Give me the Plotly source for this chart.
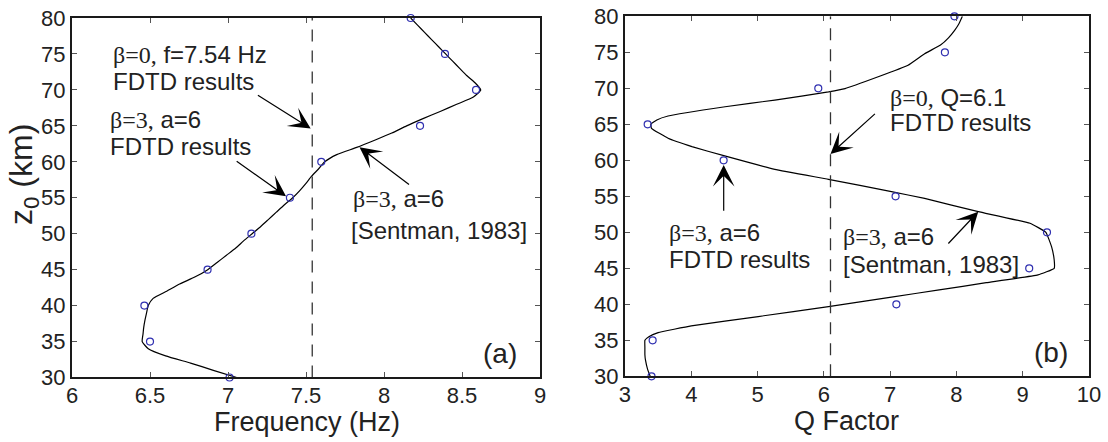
import plotly.graph_objects as go

# ---------------- data ----------------
# (a) resonance frequency versus z0
z_pts = [30, 35, 40, 45, 50, 55, 60, 65, 70, 75, 80]
f_fdtd = [7.01, 6.50, 6.464, 6.869, 7.15, 7.397, 7.598, 8.231, 8.59, 8.391, 8.171]

z_curve_a = [30, 31, 32, 33, 34, 35, 36, 37, 38, 39, 40, 41, 42, 43, 44, 45, 46, 47,
             48, 49, 50, 51, 52, 53, 54, 55, 56, 57, 58, 59, 60, 61, 62, 63, 64, 65,
             66, 67, 68, 69, 70, 71, 72, 73, 74, 75, 76, 77, 78, 79, 80]
f_sentman = [7.056, 6.906, 6.76, 6.60, 6.489, 6.45, 6.455, 6.46, 6.468, 6.478, 6.489,
             6.52, 6.607, 6.69, 6.79, 6.87, 6.93, 6.99, 7.05, 7.10, 7.155, 7.21, 7.26,
             7.31, 7.36, 7.415, 7.46, 7.50, 7.536, 7.58, 7.62, 7.697, 7.825, 7.94, 8.05,
             8.145, 8.25, 8.36, 8.466, 8.573, 8.62, 8.583, 8.53, 8.485, 8.44, 8.395,
             8.35, 8.305, 8.26, 8.215, 8.171]
f_beta0 = 7.54

# (b) Q factor versus z0
q_fdtd = [3.40, 3.417, 7.094, 9.098, 9.366, 7.082, 4.488, 3.342, 5.916, 7.826, 7.97]

z_curve_b = [30, 31, 32.2, 33, 34, 35, 35.5, 36.06, 37, 38.3, 39.67, 41, 42, 43, 44.08,
             45, 46.15, 48, 50, 51.25, 52.87, 54.7, 55.65, 57.36, 58.75, 60.64, 61.9,
             63.06, 64.44, 65, 65.6, 66.15, 67.44, 68.37, 69.5, 69.96, 71.6, 73.2, 74.8,
             76, 77, 78, 79, 80]
q_sentman = [3.38, 3.34, 3.31, 3.30, 3.30, 3.30, 3.36, 3.50, 4.0, 5.01, 6.07, 7.02, 7.74,
             8.45, 9.23, 9.475, 9.475, 9.435, 9.35, 9.11, 8.33, 7.52, 7.02, 6.07, 5.26,
             4.49, 4.01, 3.65, 3.40, 3.39, 3.48, 3.65, 4.51, 5.26, 6.07, 6.32, 6.82,
             7.27, 7.52, 7.76, 7.88, 7.97, 8.04, 8.09]
q_beta0 = 6.1

x_ticks_a = [6, 6.5, 7, 7.5, 8, 8.5, 9]
x_ticks_b = [3, 4, 5, 6, 7, 8, 9, 10]
y_ticks = [30, 35, 40, 45, 50, 55, 60, 65, 70, 75, 80]

# ---------------- styling ----------------
SANS = "Liberation Sans, Arial, Helvetica, sans-serif"
SERIF = "Liberation Serif, Times New Roman, serif"
INK = "#1a1a1a"
MARKER_BLUE = "#2f2fb0"

fig = go.Figure()

# model curves
fig.add_trace(go.Scatter(x=f_sentman, y=z_curve_a, mode="lines",
                         line=dict(color="black", width=1.2, shape="spline", smoothing=0.5),
                         xaxis="x", yaxis="y", showlegend=False, hoverinfo="skip"))
fig.add_trace(go.Scatter(x=q_sentman, y=z_curve_b, mode="lines",
                         line=dict(color="black", width=1.2, shape="spline", smoothing=0.3),
                         xaxis="x2", yaxis="y2", showlegend=False, hoverinfo="skip"))

# FDTD points
fig.add_trace(go.Scatter(x=f_fdtd, y=z_pts, mode="markers",
                         marker=dict(symbol="circle-open", size=7, color=MARKER_BLUE,
                                     line=dict(width=1.2, color=MARKER_BLUE)),
                         xaxis="x", yaxis="y", showlegend=False, cliponaxis=False))
fig.add_trace(go.Scatter(x=q_fdtd, y=z_pts, mode="markers",
                         marker=dict(symbol="circle-open", size=7, color=MARKER_BLUE,
                                     line=dict(width=1.2, color=MARKER_BLUE)),
                         xaxis="x2", yaxis="y2", showlegend=False, cliponaxis=False))

# beta = 0 reference values (dashed verticals)
fig.add_trace(go.Scatter(x=[f_beta0, f_beta0], y=[y_ticks[0], y_ticks[-1]], mode="lines",
                         line=dict(color="#333333", width=1.3, dash="12px,9px"),
                         xaxis="x", yaxis="y", showlegend=False, hoverinfo="skip"))
fig.add_trace(go.Scatter(x=[q_beta0, q_beta0], y=[y_ticks[0], y_ticks[-1]], mode="lines",
                         line=dict(color="#333333", width=1.3, dash="12px,9px"),
                         xaxis="x2", yaxis="y2", showlegend=False, hoverinfo="skip"))

axis_common = dict(showline=True, linecolor=INK, linewidth=2, mirror="allticks",
                   ticks="inside", ticklen=5, tickwidth=1, tickcolor="#555555",
                   showgrid=False, zeroline=False, automargin=False,
                   tickfont=dict(family=SANS, size=22, color="#222222"))

fig.update_layout(
    width=1108, height=442,
    margin=dict(l=0, r=0, t=0, b=0),
    paper_bgcolor="white", plot_bgcolor="white",
    xaxis=dict(domain=[0.064982, 0.487365], range=[6, 9], tickvals=x_ticks_a,
               ticktext=[f"{v:g}" for v in x_ticks_a], anchor="y",
               ticklabelstandoff=-3, **axis_common),
    yaxis=dict(domain=[0.145928, 0.959276], range=[30, 80], tickvals=y_ticks,
               anchor="x", **axis_common),
    xaxis2=dict(domain=[0.564079, 0.982852], range=[3, 10], tickvals=x_ticks_b,
                anchor="y2", ticklabelstandoff=-3, **axis_common),
    yaxis2=dict(domain=[0.148643, 0.963122], range=[30, 80], tickvals=y_ticks,
                anchor="x2", **axis_common),
)


def label(text, x, y, ax_id, size=24, xanchor="left"):
    ref = "" if ax_id == 1 else str(ax_id)
    fig.add_annotation(text=text, x=x, y=y, xref="x" + ref, yref="y" + ref,
                       showarrow=False, xanchor=xanchor, yanchor="middle",
                       font=dict(family=SANS, size=size, color="#222222"))


def arrow(x_tail, y_tail, x_head, y_head, ax_id):
    ref = "" if ax_id == 1 else str(ax_id)
    fig.add_annotation(text="", x=x_head, y=y_head, ax=x_tail, ay=y_tail,
                       xref="x" + ref, yref="y" + ref, axref="x" + ref, ayref="y" + ref,
                       showarrow=True, arrowhead=3, arrowsize=3.0, arrowwidth=1.2,
                       arrowcolor="black", standoff=0, startstandoff=0)


def greek(s):
    return f'<span style="font-family:{SERIF}">{s}</span>'


# panel (a) labels
label(greek("β=0,") + " f=7.54 Hz", 6.25, 74.92, 1)
label("FDTD results", 6.25, 71.23, 1)
label(greek("β=3,") + " a=6", 6.231, 65.93, 1)
label("FDTD results", 6.231, 62.17, 1)
label(greek("β=3,") + " a=6", 7.788, 54.83, 1)
label("[Sentman, 1983]", 7.778, 50.47, 1)
label("(a)", 8.865, 33.37, 1, size=28, xanchor="right")
arrow(7.182, 69.39, 7.53, 64.64, 1)
arrow(7.046, 60.24, 7.372, 55.2, 1)
arrow(8.17, 56.68, 7.843, 62.03, 1)

# panel (b) labels
label(greek("β=0,") + " Q=6.1", 6.967, 68.79, 2)
label("FDTD results", 6.967, 65.24, 2)
label(greek("β=3,") + " a=6", 3.633, 49.96, 2)
label("FDTD results", 3.633, 46.2, 2)
label(greek("β=3,") + " a=6", 6.262, 49.35, 2)
label("[Sentman, 1983]", 6.258, 45.55, 2)
label("(b)", 9.71, 33.24, 2, size=28, xanchor="right")
arrow(6.793, 66.64, q_beta0, 60.87, 2)
arrow(4.489, 52.78, 4.489, 59.35, 2)
arrow(7.857, 48.24, 8.329, 52.86, 2)

# axis titles
fig.add_annotation(text="Frequency (Hz)", x=307 / 1108, y=1 - 422 / 442,
                   xref="paper", yref="paper", showarrow=False,
                   xanchor="center", yanchor="middle",
                   font=dict(family=SANS, size=27, color="#222222"))
fig.add_annotation(text="Q Factor", x=846 / 1108, y=1 - 421 / 442,
                   xref="paper", yref="paper", showarrow=False,
                   xanchor="center", yanchor="middle",
                   font=dict(family=SANS, size=27, color="#222222"))
fig.add_annotation(text="z<sub>0</sub> (km)", x=24 / 1108, y=1 - 175 / 442,
                   xref="paper", yref="paper", showarrow=False, textangle=-90,
                   xanchor="center", yanchor="middle",
                   font=dict(family=SANS, size=32, color="#222222"))

fig.write_html("out.html")
